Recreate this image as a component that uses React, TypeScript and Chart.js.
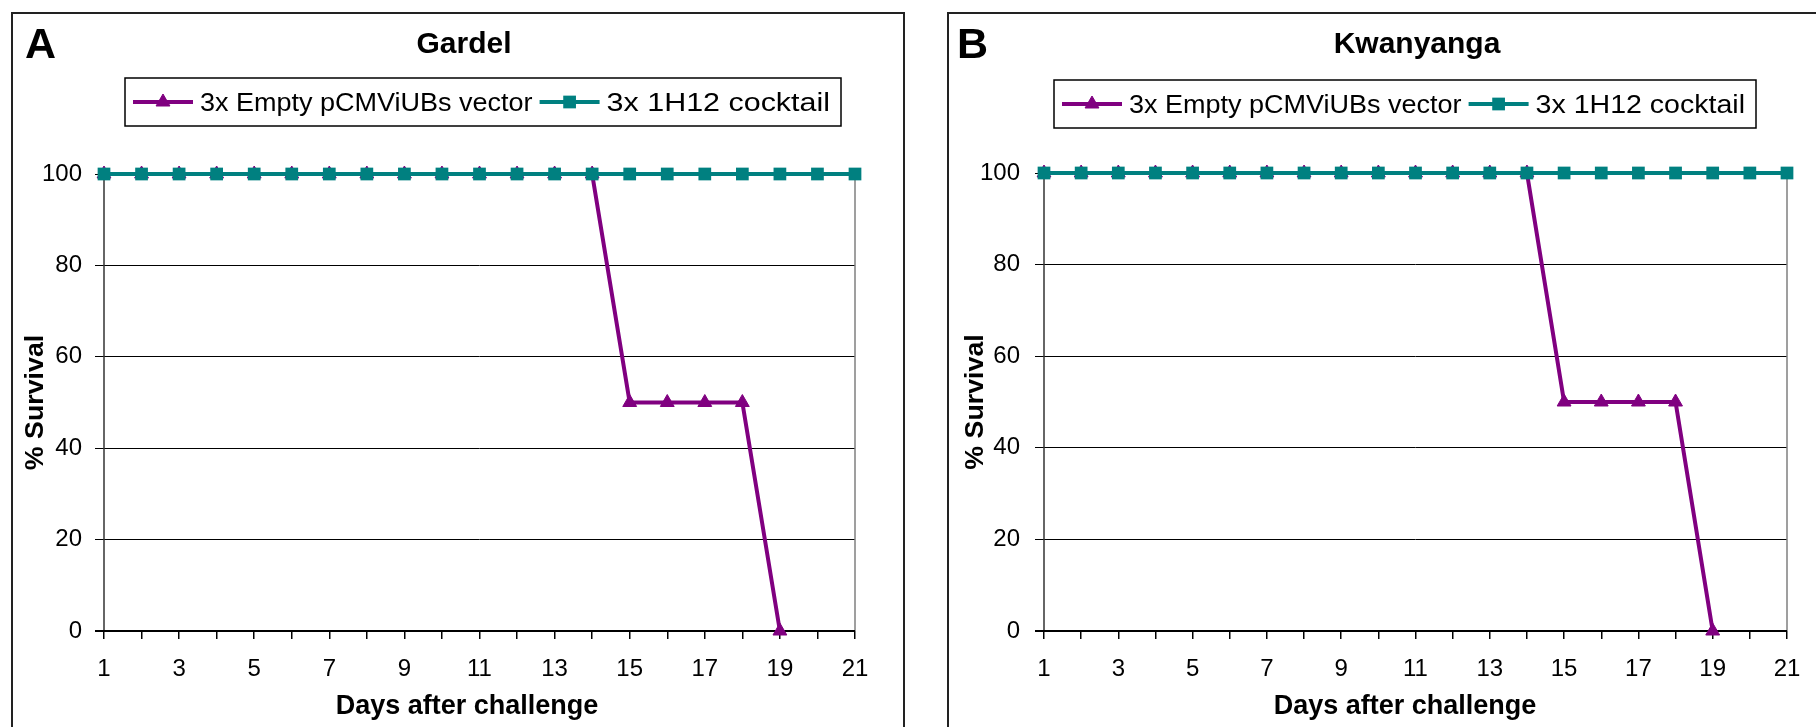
import React, { useEffect, useRef } from 'react';
import { Chart, registerables } from 'chart.js';

Chart.register(...registerables);

// ---------- data ----------
const days = ['1', '2', '3', '4', '5', '6', '7', '8', '9', '10', '11', '12', '13', '14', '15', '16', '17', '18', '19', '20', '21'];
const seriesNames = ['3x Empty pCMViUBs vector', '3x 1H12 cocktail'];
const gardelEmptyVector = [100, 100, 100, 100, 100, 100, 100, 100, 100, 100, 100, 100, 100, 100, 50, 50, 50, 50, 0, null, null];
const gardelCocktail = [100, 100, 100, 100, 100, 100, 100, 100, 100, 100, 100, 100, 100, 100, 100, 100, 100, 100, 100, 100, 100];
const kwanyangaEmptyVector = [100, 100, 100, 100, 100, 100, 100, 100, 100, 100, 100, 100, 100, 100, 50, 50, 50, 50, 0, null, null];
const kwanyangaCocktail = [100, 100, 100, 100, 100, 100, 100, 100, 100, 100, 100, 100, 100, 100, 100, 100, 100, 100, 100, 100, 100];
const yTickValues = [0, 20, 40, 60, 80, 100];
const panelLetters = ['A', 'B'];
const panelTitles = ['Gardel', 'Kwanyanga'];
const xAxisTitle = 'Days after challenge';
const yAxisTitle = '% Survival';

// ---------- styles ----------
const PURPLE = '#800080';
const TEAL = '#008080';
const FONT = '"Liberation Sans", Arial, Helvetica, sans-serif';

type Layout = {
  left: number; top: number; width: number; height: number;
  area: { left: number; right: number; top: number; bottom: number };
  letterX: number;
  titleX: number;
  legend: { x: number; y: number; w: number; h: number };
  yTitleX: number;
  xTitleX: number;
  yPad: number;
};

const layouts: Layout[] = [
  {
    left: 11, top: 12, width: 894, height: 740,
    area: { left: 91, right: 842, top: 160, bottom: 617 },
    letterX: 12,
    titleX: 451,
    legend: { x: 112, y: 64, w: 716, h: 48 },
    yTitleX: 30,
    xTitleX: 454,
    yPad: 13,
  },
  {
    left: 947, top: 12, width: 890, height: 740,
    area: { left: 95, right: 838, top: 159, bottom: 617 },
    letterX: 8,
    titleX: 468,
    legend: { x: 105, y: 66, w: 702, h: 48 },
    yTitleX: 34,
    xTitleX: 456,
    yPad: 15,
  },
];

function drawStretchedText(ctx: CanvasRenderingContext2D, text: string, x: number, y: number, font: string, sx: number, align: 'left' | 'center') {
  ctx.save();
  ctx.font = font;
  ctx.fillStyle = '#000';
  ctx.textBaseline = 'alphabetic';
  ctx.textAlign = 'left';
  const w = ctx.measureText(text).width * sx;
  const startX = align === 'center' ? x - w / 2 : x;
  ctx.translate(startX, y);
  ctx.scale(sx, 1);
  ctx.fillText(text, 0, 0);
  ctx.restore();
  return w;
}

function makePanelPlugin(idx: number) {
  const L = layouts[idx];
  return {
    id: 'panelDecor' + idx,
    beforeDatasetsDraw(chart: any) {
      const ctx = chart.ctx as CanvasRenderingContext2D;
      const a = chart.chartArea;
      ctx.save();
      ctx.strokeStyle = '#808080';
      ctx.lineWidth = 1.5;
      ctx.beginPath();
      ctx.moveTo(a.right, a.top);
      ctx.lineTo(a.right, a.bottom);
      ctx.moveTo(a.left, a.top);
      ctx.lineTo(a.right, a.top);
      ctx.stroke();
      ctx.strokeStyle = '#333';
      ctx.lineWidth = 1.5;
      ctx.beginPath();
      ctx.moveTo(a.left, a.top);
      ctx.lineTo(a.left, a.bottom);
      ctx.stroke();
      ctx.strokeStyle = '#000';
      ctx.lineWidth = 2;
      ctx.beginPath();
      ctx.moveTo(a.left - 9, a.bottom);
      ctx.lineTo(a.right, a.bottom);
      ctx.stroke();
      ctx.restore();
    },
    afterDraw(chart: any) {
      const ctx = chart.ctx as CanvasRenderingContext2D;
      const a = chart.chartArea;
      drawStretchedText(ctx, panelLetters[idx], L.letterX, 44, `bold 43px ${FONT}`, 1, 'left');
      drawStretchedText(ctx, panelTitles[idx], L.titleX, 39, `bold 30px ${FONT}`, 1.0, 'center');
      drawStretchedText(ctx, xAxisTitle, L.xTitleX, 700, `bold 27px ${FONT}`, 1.0, 'center');
      ctx.save();
      ctx.translate(L.yTitleX, (a.top + a.bottom) / 2);
      ctx.rotate(-Math.PI / 2);
      drawStretchedText(ctx, yAxisTitle, 0, 0, `bold 26px ${FONT}`, 1.03, 'center');
      ctx.restore();
      const lg = L.legend;
      ctx.save();
      ctx.fillStyle = '#fff';
      ctx.fillRect(lg.x, lg.y, lg.w, lg.h);
      ctx.strokeStyle = '#000';
      ctx.lineWidth = 1.5;
      ctx.strokeRect(lg.x, lg.y, lg.w, lg.h);
      ctx.restore();
      const cy = lg.y + lg.h / 2;
      let x = lg.x + 8;
      const n = chart.data.datasets.length;
      chart.data.datasets.forEach((ds: any, i: number) => {
        ctx.save();
        ctx.strokeStyle = ds.borderColor;
        ctx.lineWidth = ds.borderWidth;
        ctx.beginPath();
        ctx.moveTo(x, cy);
        ctx.lineTo(x + 60, cy);
        ctx.stroke();
        ctx.restore();
        ctx.save();
        ctx.fillStyle = ds.pointBackgroundColor;
        ctx.strokeStyle = ds.pointBorderColor;
        ctx.lineWidth = 1;
        const mx = x + 30;
        if (ds.pointStyle === 'triangle') {
          const r = ds.pointRadius;
          ctx.beginPath();
          ctx.moveTo(mx, cy - r);
          ctx.lineTo(mx + r * 0.866, cy + r * 0.5);
          ctx.lineTo(mx - r * 0.866, cy + r * 0.5);
          ctx.closePath();
          ctx.fill();
          ctx.stroke();
        } else {
          const s = ds.pointRadius * Math.SQRT1_2;
          ctx.fillRect(mx - s, cy - s, 2 * s, 2 * s);
        }
        ctx.restore();
        x += 67;
        const font = `25px ${FONT}`;
        let sx = 1.08;
        if (i === n - 1) {
          ctx.save();
          ctx.font = font;
          const mw = ctx.measureText(ds.label).width;
          ctx.restore();
          sx = (lg.x + lg.w - 11 - x) / mw;
        }
        const w = drawStretchedText(ctx, ds.label, x, cy + 8.5, font, sx, 'left');
        x += w + 7;
      });
    },
  };
}

function makeConfig(idx: number, empty: (number | null)[], cocktail: number[]): any {
  const L = layouts[idx];
  const canvasW = L.width - 4;
  const canvasH = L.height - 4;
  return {
    type: 'line',
    data: {
      labels: days,
      datasets: [
        {
          label: seriesNames[0],
          data: empty,
          borderColor: PURPLE,
          backgroundColor: PURPLE,
          pointBackgroundColor: PURPLE,
          pointBorderColor: PURPLE,
          pointStyle: 'triangle',
          pointRadius: 8,
          pointBorderWidth: 1,
          borderWidth: 4,
          tension: 0,
          spanGaps: false,
          clip: false,
          order: 1,
        },
        {
          label: seriesNames[1],
          data: cocktail,
          borderColor: TEAL,
          backgroundColor: TEAL,
          pointBackgroundColor: TEAL,
          pointBorderColor: TEAL,
          pointStyle: 'rect',
          pointRadius: 9,
          pointBorderWidth: 0,
          borderWidth: 4,
          tension: 0,
          clip: false,
          order: 0,
        },
      ],
    },
    options: {
      animation: false,
      responsive: false,
      maintainAspectRatio: false,
      devicePixelRatio: 1,
      events: [],
      layout: {
        padding: { left: 0, top: L.area.top, right: canvasW - L.area.right, bottom: 0 },
      },
      plugins: {
        legend: { display: false },
        title: { display: false },
        tooltip: { enabled: false },
      },
      scales: {
        x: {
          type: 'category',
          offset: false,
          border: { display: false },
          grid: { drawOnChartArea: false, drawTicks: true, tickLength: 8, color: '#000', lineWidth: 1.5 },
          ticks: {
            autoSkip: false,
            maxRotation: 0,
            padding: 16,
            color: '#000',
            font: { family: FONT, size: 24 },
            callback: function (this: any, value: any, index: number) {
              const lab = days[index];
              return Number(lab) % 2 === 1 ? lab : '';
            },
          },
          afterFit: (scale: any) => { scale.height = canvasH - L.area.bottom; },
        },
        y: {
          type: 'linear',
          min: 0,
          max: 100,
          border: { display: false },
          afterBuildTicks: (scale: any) => { scale.ticks = yTickValues.map((v) => ({ value: v })); },
          grid: { drawOnChartArea: true, drawTicks: true, tickLength: 9, color: '#000', lineWidth: 1 },
          ticks: {
            padding: L.yPad,
            color: '#000',
            font: { family: FONT, size: 24 },
          },
          afterFit: (scale: any) => { scale.width = L.area.left; },
        },
      },
    },
    plugins: [makePanelPlugin(idx)],
  };
}

function Panel({ idx, empty, cocktail }: { idx: number; empty: (number | null)[]; cocktail: number[] }) {
  const ref = useRef<HTMLCanvasElement | null>(null);
  const L = layouts[idx];
  useEffect(() => {
    if (!ref.current) return;
    const chart = new Chart(ref.current, makeConfig(idx, empty, cocktail));
    return () => chart.destroy();
  }, [idx, empty, cocktail]);
  return (
    <div
      style={{
        position: 'absolute',
        left: L.left,
        top: L.top,
        width: L.width,
        height: L.height,
        boxSizing: 'border-box',
        border: '2px solid #222',
        background: '#fff',
      }}
    >
      <canvas ref={ref} width={L.width - 4} height={L.height - 4} style={{ display: 'block', width: L.width - 4, height: L.height - 4 }} />
    </div>
  );
}

export default function App() {
  return (
    <div style={{ position: 'fixed', left: 0, top: 0, width: 1816, height: 727, overflow: 'hidden', background: '#fff' }}>
      <Panel idx={0} empty={gardelEmptyVector} cocktail={gardelCocktail} />
      <Panel idx={1} empty={kwanyangaEmptyVector} cocktail={kwanyangaCocktail} />
    </div>
  );
}
